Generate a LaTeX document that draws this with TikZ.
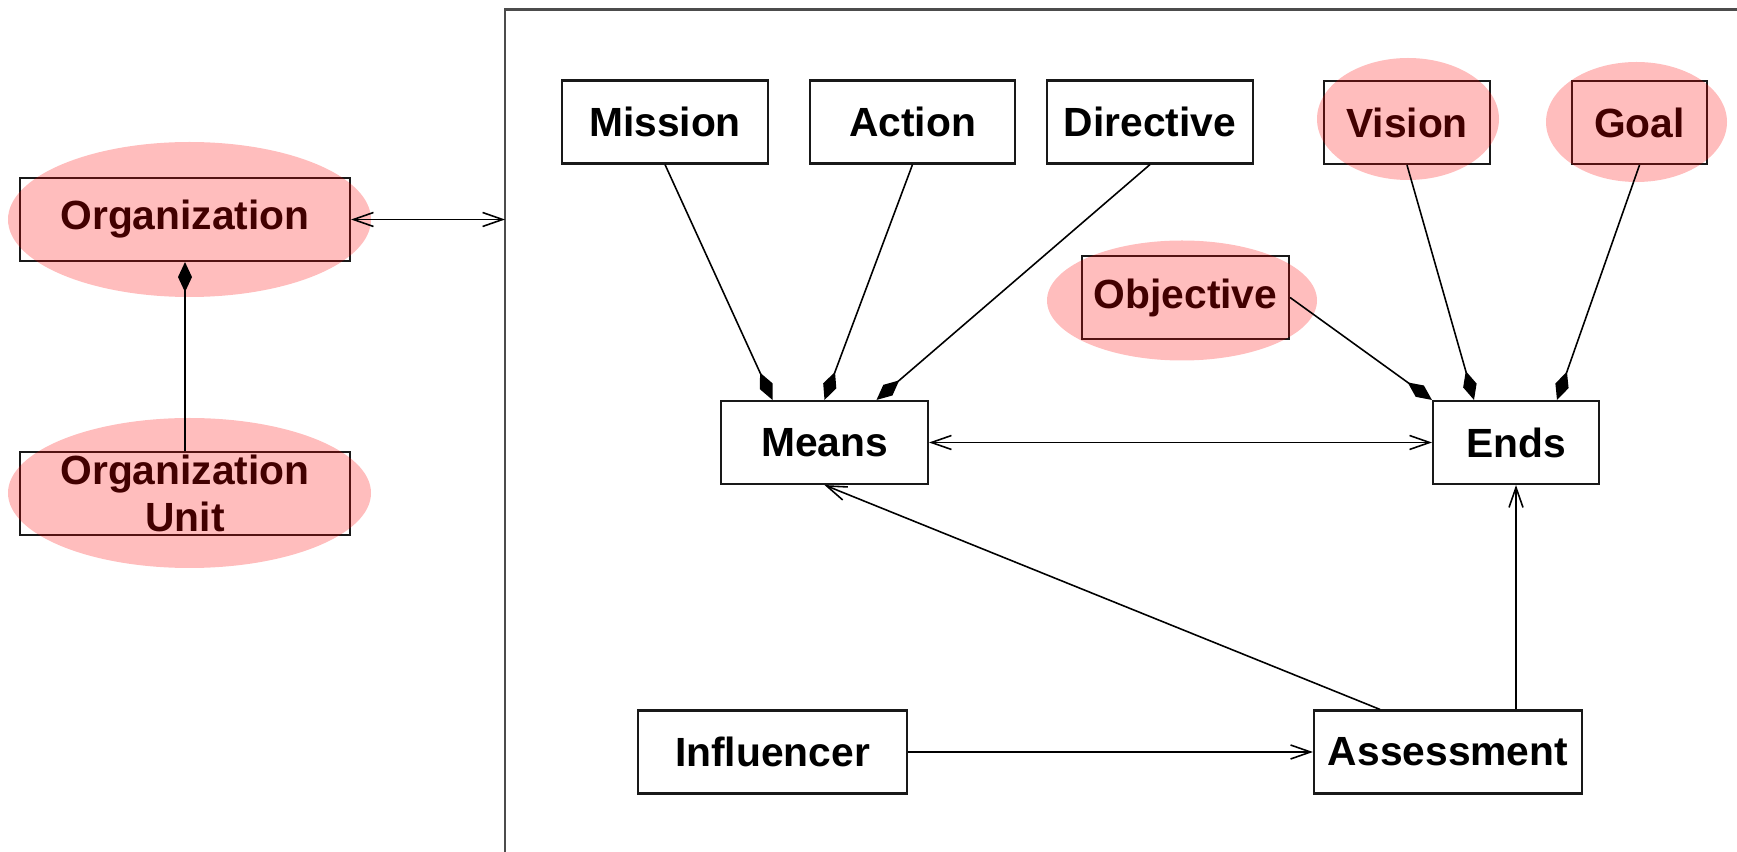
\documentclass[tikz,border=0pt]{standalone}
\usepackage{fontspec}
\setmainfont{Liberation Sans}
\usetikzlibrary{arrows.meta}

\begin{document}
\begin{tikzpicture}[thin,
    box/.style={rectangle,draw=black!90,line width=0.6pt,fill=white,minimum height=0.83cm,inner sep=0pt,
                font=\fontsize{11.6}{13.6}\selectfont\bfseries,align=center},
    blob/.style={fill=red,fill opacity=0.26},
    link/.style={line width=0.45pt},
    assoc/.style={link,{Straight Barb[length=2mm,width=1.4mm]}-{Straight Barb[length=2mm,width=1.4mm]}},
    nav/.style={link,-{Straight Barb[length=2mm,width=1.4mm]}},
    part/.style={link,-{Diamond[length=3mm,width=1.4mm]}}
  ]
  \useasboundingbox (0,0) rectangle (17.37,-8.52);
  \draw[line width=0.7pt,black!70] (17.37,-0.095) -- (5.05,-0.095) -- (5.05,-8.52);

  \node[box,minimum width=2.06cm] (mission) at (6.65,-1.22) {Mission};
  \node[box,minimum width=2.05cm] (action) at (9.125,-1.22) {Action};
  \node[box,minimum width=2.06cm] (directive) at (11.50,-1.22) {Directive};
  \node[box,minimum width=1.66cm] (vision) at (14.07,-1.225) {Vision};
  \node[box,minimum width=1.35cm] (goal) at (16.395,-1.225) {Goal};
  \node[box,minimum width=2.07cm] (objective) at (11.855,-2.975) {Objective};
  \node[box,minimum width=2.07cm] (means) at (8.245,-4.425) {Means};
  \node[box,minimum width=1.66cm] (ends) at (15.16,-4.425) {Ends};
  \node[box,minimum width=2.69cm] (influencer) at (7.725,-7.52) {Influencer};
  \node[box,minimum width=2.68cm] (assessment) at (14.48,-7.52) {Assessment};
  \node[box,minimum width=3.30cm] (org) at (1.85,-2.195) {Organization};
  \node[box,minimum width=3.30cm] (unit) at (1.85,-4.935) {Organization\\Unit};
  \coordinate (frame) at (5.05,-2.195);

  % pink highlights over the boxes
  \fill[blob] (14.08,-1.19) ellipse (0.91 and 0.61);
  \fill[blob] (16.365,-1.22) ellipse (0.905 and 0.60);
  \fill[blob] (11.82,-3.005) ellipse (1.35 and 0.6);
  \fill[blob] (1.895,-2.195) ellipse (1.815 and 0.775);
  \fill[blob] (1.895,-4.93) ellipse (1.815 and 0.75);

  \path[part]%
    (mission.south) edge ([xshift=-0.52cm]means.north)
    (action.south) edge (means.north)
    (directive.south) edge ([xshift=0.52cm]means.north)
    (objective.east) edge (ends.north west)
    (vision.south) edge ([xshift=-0.42cm]ends.north)
    (goal.south) edge ([xshift=0.41cm]ends.north)
    (unit.north) edge (org.south);
  \path[assoc]%
    (org.east) edge (frame)
    (means) edge (ends);
  \path[nav]%
    (influencer) edge (assessment)
    ([xshift=-0.68cm]assessment.north) edge (means.south)
    (ends.south |- assessment.north) edge (ends.south);
\end{tikzpicture}
\end{document}
